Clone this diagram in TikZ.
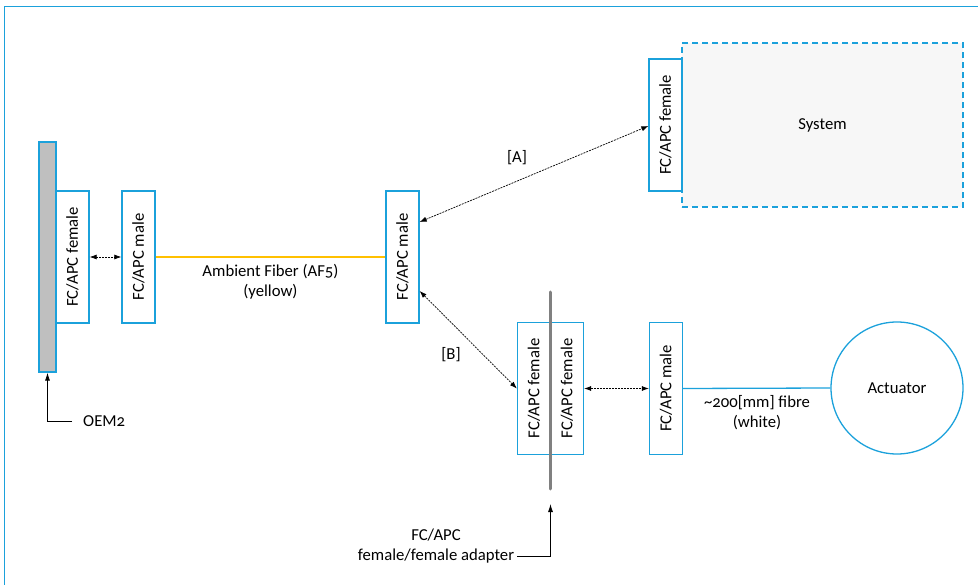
\documentclass[tikz,border=0pt]{standalone}
\usepackage{fontspec}
\setmainfont[Numbers=OldStyle]{Carlito}
\usetikzlibrary{arrows.meta}
\definecolor{cblue}{HTML}{1BA1DB}
\definecolor{cyel}{HTML}{FFC000}
\definecolor{cbar}{HTML}{BFBFBF}
\definecolor{cadp}{HTML}{808080}
\definecolor{csys}{HTML}{F7F7F7}
\begin{document}
\fontsize{16.7pt}{20pt}\selectfont
\begin{tikzpicture}[x=1pt,y=-1pt,
  conn/.style={draw=cblue,line width=1.3pt,fill=white,minimum width=33pt,minimum height=132pt,inner sep=0pt},
  link/.style={line width=0.7pt,dash pattern=on 2pt off 1pt,{Latex[length=7pt,width=5pt]}-{Latex[length=7pt,width=5pt]}},
  callout/.style={line width=0.8pt,-{Latex[length=8pt,width=5pt]}},
  txt/.style={inner sep=0pt,align=center,font=\fontsize{16.7pt}{20pt}\selectfont}]
\clip (0,0) rectangle (978,585);
% outer frame
\draw[cblue,line width=1pt] (4,600) -- (4,7) -- (990,7);
% system
\node[draw=cblue,dash pattern=on 6pt off 4pt,line width=1.3pt,fill=csys,minimum width=281pt,minimum height=164pt,inner sep=0pt] (sys) at (822.5,125) {};
\node[txt] at (822.5,125) {System};
\node[conn] (sysf) at (665.5,125) {\rotatebox{90}{FC/APC female}};
% OEM bar
\node[draw=cblue,line width=1.3pt,fill=cbar,minimum width=17pt,minimum height=230pt,inner sep=0pt] (bar) at (47.5,257) {};
\node[conn] (f1) at (72.5,257) {\rotatebox{90}{FC/APC female}};
\node[conn] (m1) at (138.5,257) {\rotatebox{90}{FC/APC male}};
\node[conn] (m2) at (402.5,257) {\rotatebox{90}{FC/APC male}};
% adapter
\node[conn] (adl) at (534,388.5) {\rotatebox{90}{FC/APC female}};
\node[conn] (adr) at (567,388.5) {\rotatebox{90}{FC/APC female}};
\coordinate (adtop) at (550.5,292);
\coordinate (adbot) at (550.5,489);
\draw[cadp,line width=3pt,line cap=round] (adtop) -- (adbot);
\node[conn] (m3) at (666,388.5) {\rotatebox{90}{FC/APC male}};
% actuator
\node[draw=cblue,line width=1.3pt,circle,minimum size=132pt,inner sep=0pt] (act) at (897,388) {};
\node[txt] at (897,388) {Actuator};
% connections
\draw[link] (f1.east) -- (m1.west);
\draw[cyel,line width=2pt] (m1.east) -- (m2.west);
\draw[link] ([yshift=35pt]m2.east) -- ([yshift=-1pt]sysf.west);
\draw[link] ([yshift=-34pt]m2.east) -- (adl.west);
\draw[link] (adr.east) -- (m3.west);
\draw[cblue,line width=1.3pt] (m3.east) -- (act.west);
% labels
\node[txt] (la) at (517,158) {[A]};
\node[txt] (lb) at (451,355) {[B]};
\node[txt] (laf) at (270.5,282) {Ambient Fiber (AF5)\\(yellow)};
\node[txt] (lfw) at (757,413) {\textasciitilde200[mm] fibre\\(white)};
% OEM callout
\node[txt,anchor=west] (oem) at (83,421.5) {OEM2};
\coordinate (oemk) at (72,421);
\draw[callout] (oemk) -| (bar.south);
% adapter callout
\node[txt] (adp) at (436,546) {FC/APC\\female/female adapter};
\coordinate (adk) at (517,556);
\coordinate (adtip) at (550.5,504);
\draw[callout] (adk) -| (adtip);
\end{tikzpicture}
\end{document}
